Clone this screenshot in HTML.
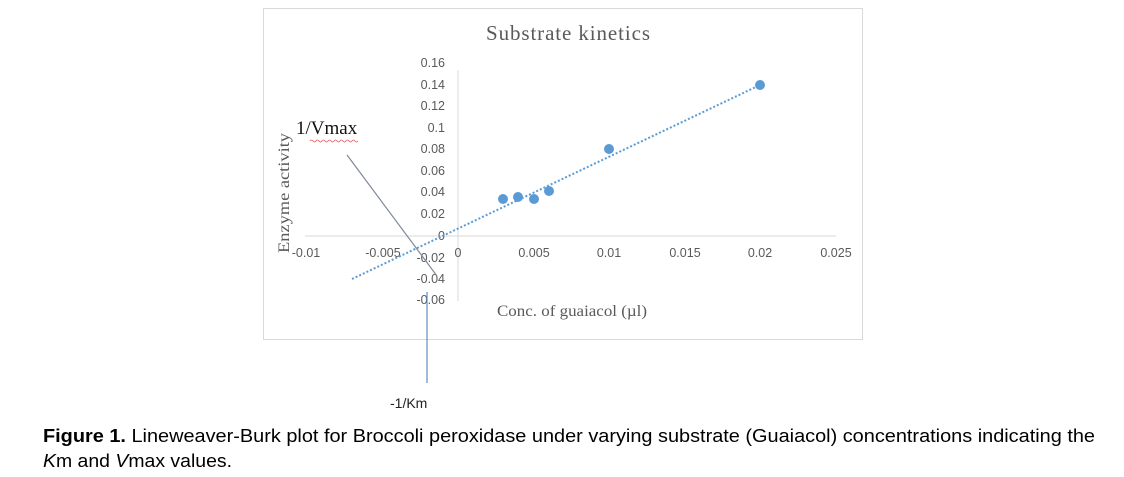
<!DOCTYPE html>
<html><head><style>
body{margin:0;background:#fff;width:1124px;height:477px;overflow:hidden;position:relative;font-family:"Liberation Sans",Arial,sans-serif}
</style></head><body>
<svg width="1124" height="477" style="position:absolute;left:0;top:0">
<rect x="263.5" y="8.5" width="599" height="331" fill="#fff" stroke="#d9d9d9"/>
<text x="486" y="40" font-family="Liberation Serif,serif" font-size="21" fill="#595959" textLength="164" lengthAdjust="spacing">Substrate  kinetics</text>
<line x1="458" y1="70" x2="458" y2="301" stroke="#d9d9d9"/>
<line x1="305" y1="236" x2="836" y2="236" stroke="#d9d9d9"/>
<g font-size="12.5" fill="#595959" text-anchor="end">
<text x="445" y="67">0.16</text><text x="445" y="89">0.14</text><text x="445" y="110">0.12</text>
<text x="445" y="132">0.1</text><text x="445" y="153">0.08</text><text x="445" y="175">0.06</text>
<text x="445" y="196">0.04</text><text x="445" y="218">0.02</text><text x="445" y="240">0</text>
<text x="445" y="262">-0.02</text><text x="445" y="283">-0.04</text><text x="445" y="304">-0.06</text>
</g>
<g font-size="12.5" fill="#595959" text-anchor="middle">
<text x="306" y="257">-0.01</text><text x="383" y="257">-0.005</text><text x="458" y="257">0</text>
<text x="534" y="257">0.005</text><text x="609" y="257">0.01</text><text x="685" y="257">0.015</text>
<text x="760" y="257">0.02</text><text x="836" y="257">0.025</text>
</g>
<text transform="translate(289,253) rotate(-90)" font-family="Liberation Serif,serif" font-size="16" fill="#595959" textLength="120" lengthAdjust="spacingAndGlyphs">Enzyme activity</text>
<text x="497" y="316" font-family="Liberation Serif,serif" font-size="16" fill="#595959" textLength="150" lengthAdjust="spacingAndGlyphs">Conc. of guaiacol (µl)</text>
<line x1="352" y1="279" x2="760" y2="85" stroke="#5b9bd5" stroke-width="2" stroke-dasharray="2,2"/>
<g fill="#5b9bd5">
<circle cx="503" cy="199" r="5"/><circle cx="518" cy="197" r="5"/><circle cx="534" cy="199" r="5"/>
<circle cx="549" cy="191" r="5"/><circle cx="609" cy="149" r="5"/><circle cx="760" cy="85" r="5"/>
</g>
<text x="296" y="134" font-family="Liberation Serif,serif" font-size="19" fill="#111">1/Vmax</text>
<path d="M310 141 q1.5 -2 3 0 t3 0 t3 0 t3 0 t3 0 t3 0 t3 0 t3 0 t3 0 t3 0 t3 0 t3 0 t3 0 t3 0 t3 0 t3 0" stroke="#e06060" fill="none" stroke-width="0.8"/>
<line x1="347" y1="155" x2="437" y2="276" stroke="#7f8a99" stroke-width="1.2"/>
<line x1="427" y1="292" x2="427" y2="383" stroke="#5b8fc0" stroke-width="1.2"/>
<text x="390" y="408" font-size="14" fill="#222">-1/Km</text>
<text x="43" y="442" font-size="18" fill="#000" textLength="1052" lengthAdjust="spacingAndGlyphs"><tspan font-weight="bold">Figure 1.</tspan> Lineweaver-Burk plot for Broccoli peroxidase under varying substrate (Guaiacol) concentrations indicating the</text>
<text x="43" y="467" font-size="18" fill="#000" textLength="189" lengthAdjust="spacingAndGlyphs"><tspan font-style="italic">K</tspan>m and <tspan font-style="italic">V</tspan>max values.</text>
</svg>
</body></html>
